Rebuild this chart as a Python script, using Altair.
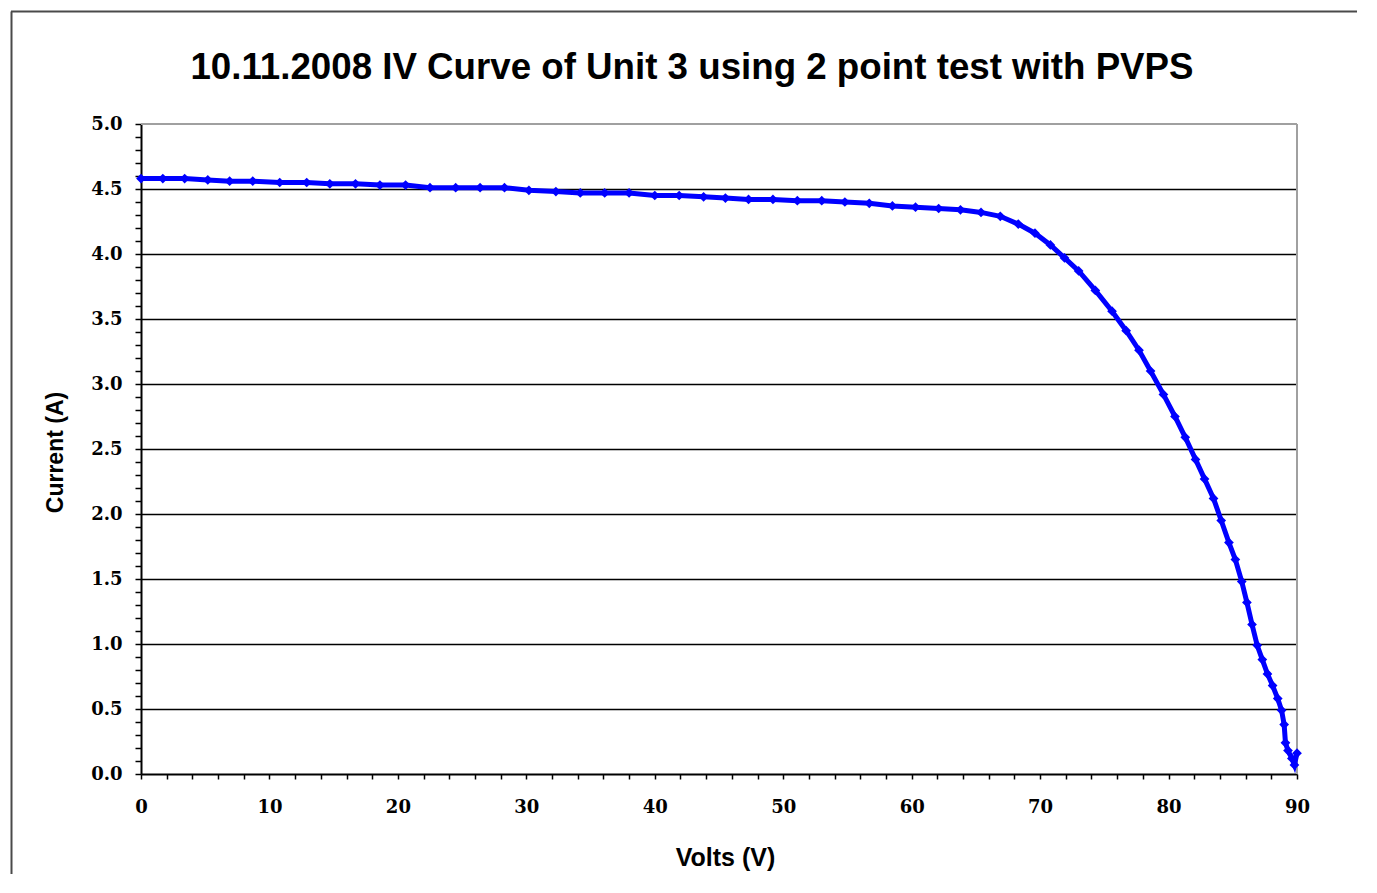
import altair as alt
import pandas as pd

volts = [0.0, 1.7, 3.4, 5.2, 6.9, 8.7, 10.8, 12.9, 14.7, 16.7, 18.6, 20.6, 22.5, 24.5,
         26.4, 28.3, 30.2, 32.3, 34.2, 36.1, 38.0, 40.0, 41.9, 43.8, 45.5, 47.3, 49.2,
         51.1, 53.0, 54.8, 56.7, 58.5, 60.3, 62.1, 63.8, 65.4, 66.9, 68.3, 69.6, 70.8,
         71.9, 73.0, 74.3, 75.6, 76.7, 77.7, 78.6, 79.6, 80.5, 81.3, 82.1, 82.8, 83.5,
         84.1, 84.7, 85.2, 85.7, 86.1, 86.5, 86.9, 87.3, 87.7, 88.1, 88.5, 88.8, 89.0,
         89.1, 89.3, 89.6, 89.8, 90.0]
current = [4.58, 4.58, 4.58, 4.57, 4.56, 4.56, 4.55, 4.55, 4.54, 4.54, 4.53, 4.53, 4.51, 4.51,
           4.51, 4.51, 4.49, 4.48, 4.47, 4.47, 4.47, 4.45, 4.45, 4.44, 4.43, 4.42, 4.42,
           4.41, 4.41, 4.40, 4.39, 4.37, 4.36, 4.35, 4.34, 4.32, 4.29, 4.23, 4.16, 4.07,
           3.97, 3.87, 3.72, 3.56, 3.41, 3.26, 3.10, 2.92, 2.75, 2.59, 2.42, 2.27, 2.12,
           1.95, 1.78, 1.65, 1.48, 1.32, 1.15, 0.99, 0.88, 0.77, 0.68, 0.58, 0.49, 0.38,
           0.24, 0.18, 0.12, 0.07, 0.16]

y_tick_values = [round(i * 0.1, 1) for i in range(51)]
x_tick_values = [i * 2 for i in range(46)]

title_text = "10.11.2008 IV Curve of Unit 3 using 2 point test with PVPS"
x_title = "Volts (V)"
y_title = "Current (A)"

W, H = 1156, 650

df = pd.DataFrame({"V": volts, "I": current})
one = pd.DataFrame({"k": [0]})

half = "abs(datum.value*2 - round(datum.value*2)) < 0.001"

x_axis = alt.Axis(
    values=x_tick_values,
    labelExpr="datum.value % 10 === 0 ? datum.label : ''",
    labelOverlap=False, labelFlush=False, labelBound=False,
    grid=False,
    tickSize=5, tickWidth=1.5, tickColor="black",
    domainColor="black", domainWidth=2,
    labelFont="DejaVu Serif", labelFontWeight="bold", labelFontSize=18, labelColor="black",
    labelPadding=19,
    title=x_title, titleFont="Liberation Sans", titleFontWeight="bold", titleFontSize=25,
    titleColor="black", titleX=584, titleY=83, titleBaseline="middle", titleAlign="center",
)
y_axis = alt.Axis(
    values=y_tick_values,
    labelExpr=f"{half} ? format(datum.value, '.1f') : ''",
    labelOverlap=False, labelFlush=False, labelBound=False,
    grid=True, gridColor="black", gridWidth=1.5,
    gridOpacity={"condition": {"test": f"{half} && datum.value < 4.99 && datum.value > 0.01", "value": 1}, "value": 0},
    tickSize=6, tickWidth=1.5, tickColor="black",
    domainColor="black", domainWidth=2,
    labelFont="DejaVu Serif", labelFontWeight="bold", labelFontSize=18, labelColor="black",
    labelPadding=13, labelBaseline="middle",
    title=y_title, titleFont="Liberation Sans", titleFontWeight="bold", titleFontSize=23,
    titleColor="black", titleX=-86, titleY=328, titleBaseline="middle", titleAlign="center",
    titleAngle=270,
)

line = alt.Chart(df).mark_line(
    color="#0000ff", strokeWidth=5,
    point=alt.OverlayMarkDef(shape="diamond", size=95, filled=True, color="#0000ff"),
).encode(
    x=alt.X("V:Q", scale=alt.Scale(domain=[0, 90], nice=False, zero=False), axis=x_axis),
    y=alt.Y("I:Q", scale=alt.Scale(domain=[0, 5], nice=False), axis=y_axis),
)

border_top = alt.Chart(one).mark_rule(color="#a0a0a0", strokeWidth=2).encode(
    x=alt.value(0), x2=alt.value(W), y=alt.value(0))
border_right = alt.Chart(one).mark_rule(color="#a0a0a0", strokeWidth=2).encode(
    x=alt.value(W), y=alt.value(0), y2=alt.value(H))
frame_top = alt.Chart(one).mark_rule(color="#4a4a4a", strokeWidth=2).encode(
    x=alt.value(-130), x2=alt.value(W + 60), y=alt.value(-112.5))
frame_left = alt.Chart(one).mark_rule(color="#4a4a4a", strokeWidth=2).encode(
    x=alt.value(-129.5), y=alt.value(-112.5), y2=alt.value(H + 100))

chart = alt.layer(frame_top, frame_left, border_top, border_right, line).properties(
    width=W, height=H,
    title=alt.TitleParams(
        text=title_text, font="Liberation Sans", fontSize=36.7, fontWeight="bold",
        color="black", anchor="middle", frame="group", dx=-27, offset=-105,
        baseline="alphabetic",
    ),
    padding={"left": 133, "top": 116, "right": 60, "bottom": 100},
    autosize=alt.AutoSizeParams(type="none"),
).configure_view(stroke=None).configure(background="white")

chart.save("out.html", embed_options={"renderer": "svg", "actions": False})
